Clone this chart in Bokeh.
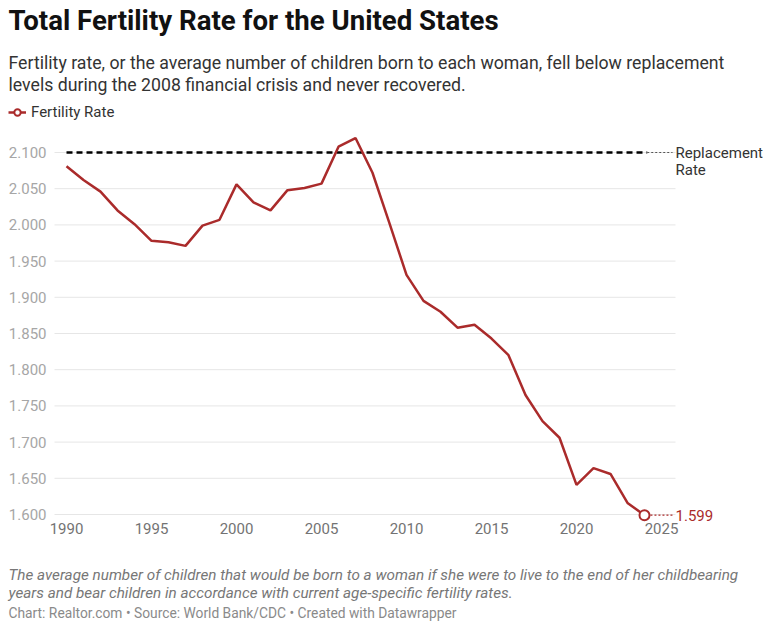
from bokeh.plotting import figure
from bokeh.models import Label, Legend, LegendItem, FixedTicker, NumeralTickFormatter, Range1d
from bokeh.embed import file_html
from bokeh.resources import INLINE

# ---- data ----
years = list(range(1990, 2025))
fertility = [2.081, 2.062, 2.046, 2.020, 2.001, 1.978, 1.976, 1.971, 1.999, 2.007,
             2.056, 2.031, 2.020, 2.048, 2.051, 2.057, 2.108, 2.120, 2.072, 2.002,
             1.931, 1.895, 1.880, 1.858, 1.862, 1.843, 1.820, 1.765, 1.729, 1.706,
             1.641, 1.664, 1.656, 1.616, 1.599]
replacement_rate = 2.100
y_ticks = [1.60, 1.65, 1.70, 1.75, 1.80, 1.85, 1.90, 1.95, 2.00, 2.05, 2.10]
x_ticks = [1990, 1995, 2000, 2005, 2010, 2015, 2020, 2025]

title_text = "Total Fertility Rate for the United States"
subtitle_lines = ["Fertility rate, or the average number of children born to each woman, fell below replacement",
                  "levels during the 2008 financial crisis and never recovered."]
legend_label = "Fertility Rate"
notes_lines = ["The average number of children that would be born to a woman if she were to live to the end of her childbearing",
               "years and bear children in accordance with current age-specific fertility rates."]
footer_text = "Chart: Realtor.com \u2022 Source: World Bank/CDC \u2022 Created with Datawrapper"

RED = "#aa2b2b"
FONT = "Roboto"
W, H = 776, 624

# plot region (data space) – the frame spans the whole canvas so that all texts stay unclipped
PX_PER_YEAR, PX_PER_UNIT = 17.0, 724.0
x_start = 1990 - 66 / PX_PER_YEAR
x_end = 1990 + (W - 66) / PX_PER_YEAR
y_end = 2.1 + 152 / PX_PER_UNIT
y_start = 1.6 - (H - 514) / PX_PER_UNIT
plot_left = 1990 - 12 / PX_PER_YEAR        # where the gridlines start
plot_bottom = 1.6 - 2 / PX_PER_UNIT         # x-axis baseline
grid_end = 1990 + 609 / PX_PER_YEAR         # where the gridlines stop

p = figure(width=W, height=H, output_backend="svg", toolbar_location=None,
           x_range=Range1d(x_start, x_end), y_range=Range1d(y_start, y_end),
           min_border_left=0, min_border_right=0, min_border_top=0, min_border_bottom=0)
p.outline_line_color = None
p.background_fill_color = "white"
p.border_fill_color = "white"

p.yaxis.ticker = FixedTicker(ticks=y_ticks)
p.yaxis.formatter = NumeralTickFormatter(format="0.000")
p.xaxis.ticker = FixedTicker(ticks=x_ticks)
p.yaxis.fixed_location = plot_left
p.xaxis.fixed_location = plot_bottom
for ax in (p.xaxis, p.yaxis):
    ax.axis_line_color = None
    ax.major_tick_line_color = None
    ax.minor_tick_line_color = None
    ax.major_tick_out = 0
    ax.major_tick_in = 0
    ax.minor_tick_out = 0
    ax.minor_tick_in = 0
    ax.major_label_text_font = FONT
    ax.major_label_text_font_size = "15px"
p.yaxis.major_label_text_color = "#a6a6a6"
p.yaxis.major_label_standoff = 8
p.xaxis.major_label_text_color = "#737373"
p.xaxis.major_label_standoff = 6
p.grid.visible = False

# horizontal gridlines
p.segment(x0=[plot_left] * len(y_ticks), x1=[grid_end] * len(y_ticks), y0=y_ticks, y1=y_ticks,
          line_color="#e6e6e6", line_width=1)

# replacement line
p.line([years[0], years[-1] + 0.16], [replacement_rate, replacement_rate],
       line_color="black", line_width=2.5, line_dash="6 4")
p.line([years[-1] + 0.16, years[-1] + 1.65], [replacement_rate, replacement_rate],
       line_color="#555555", line_width=1, line_dash="2 2")

# main series
r_line = p.line(years, fertility, line_color=RED, line_width=2.5)
p.line([years[-1] + 0.35, years[-1] + 1.65], [fertility[-1], fertility[-1]],
       line_color=RED, line_width=1.2, line_dash="2 2")
r_pt = p.scatter([years[-1]], [fertility[-1]], size=10, fill_color="white",
                 line_color=RED, line_width=2)

p.add_layout(Label(x=years[-1], y=fertility[-1], x_offset=31, text=f"{fertility[-1]:.3f}",
                   text_font=FONT, text_font_size="15px", text_color=RED,
                   text_baseline="middle"))
p.add_layout(Label(x=years[-1], y=replacement_rate, x_offset=31, text="Replacement",
                   text_font=FONT, text_font_size="15px", text_color="#333333",
                   text_baseline="middle"))
p.add_layout(Label(x=years[-1], y=replacement_rate, x_offset=31, y_offset=-17, text="Rate",
                   text_font=FONT, text_font_size="15px", text_color="#333333",
                   text_baseline="middle"))

# legend
legend = Legend(items=[LegendItem(label=legend_label, renderers=[r_line, r_pt])],
                location=(8, H - 121), orientation="horizontal",
                padding=0, margin=0, spacing=0, glyph_width=18, glyph_height=16,
                label_height=16, label_standoff=5,
                border_line_color=None, background_fill_alpha=0,
                label_text_font=FONT, label_text_font_size="15px", label_text_color="#333333")
p.add_layout(legend, "center")


def add_text(text, page_x, page_y, size, color, style="normal"):
    p.add_layout(Label(x=page_x, y=H - page_y, x_units="screen", y_units="screen",
                       text=text, text_font=FONT, text_font_size=size, text_color=color,
                       text_font_style=style, text_baseline="middle"))


add_text(title_text, 8, 20, "27.6px", "#111111", "bold")
add_text(subtitle_lines[0], 8, 62, "17.7px", "#333333")
add_text(subtitle_lines[1], 8, 84, "17.7px", "#333333")
add_text(notes_lines[0], 8, 574, "15.25px", "#777777", "italic")
add_text(notes_lines[1], 8, 592, "15.25px", "#777777", "italic")
add_text(footer_text, 8, 612, "13.8px", "#8a8a8a")

open("out.html", "w").write(file_html(p, INLINE))
